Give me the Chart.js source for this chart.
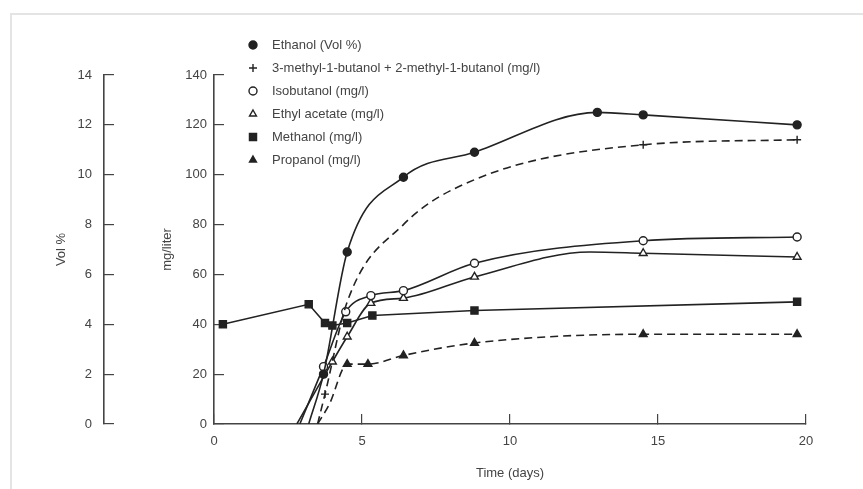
<!DOCTYPE html>
<html>
<head>
<meta charset="utf-8">
<script src="https://cdn.jsdelivr.net/npm/chart.js@4.4.1/dist/chart.umd.min.js"></script>
<style>
html, body { margin: 0; padding: 0; background: #fff; }
#wrap { position: relative; width: 863px; height: 489px; }
#frame { position: absolute; left: 10px; top: 13px; right: 0; bottom: 0; border-top: 2px solid #e4e4e4; border-left: 2px solid #e4e4e4; }
</style>
</head>
<body>
<div id="wrap">
    <div id="frame"></div>
    <canvas id="fermentChart"></canvas>
</div>
<script>
// values, time in days
const ethanolDays = [3.2, 3.7, 4.5, 6.4, 8.8, 12.95, 14.5, 19.7];
const ethanolVol = [0, 2.0, 6.9, 9.9, 10.9, 12.5, 12.4, 12.0];

const butanolDays = [3.5, 3.75, 4.5, 6.4, 8.8, 14.5, 19.7];
const butanolMg = [0, 12, 49, 80, 98, 112, 114];

const isobutanolDays = [2.9, 3.7, 4.45, 5.3, 6.4, 8.8, 14.5, 19.7];
const isobutanolMg = [0, 23, 45, 51.5, 53.5, 64.5, 73.5, 75];

const ethylAcetateDays = [2.8, 4.0, 4.5, 5.3, 6.4, 8.8, 12.7, 14.5, 19.7];
const ethylAcetateMg = [0, 25, 35, 48.5, 50.5, 59, 69, 68.5, 67];

const methanolDays = [0.3, 3.2, 3.75, 4.0, 4.5, 5.35, 8.8, 19.7];
const methanolMg = [40, 48, 40.5, 39.5, 40.5, 43.5, 45.5, 49];

const propanolDays = [3.5, 3.9, 4.5, 5.2, 6.4, 8.8, 14.5, 19.7];
const propanolMg = [0, 8, 24, 24, 27.5, 32.5, 36, 36];

const timeTicks = [0, 5, 10, 15, 20];

const Ink = '#222';
const Grey = '#444';

function toPoints(days, values) {
    return days.map((d, i) => ({ x: d, y: values[i] }));
}

function getDataSetEntry(label, data, opts) {
    return Object.assign({
        label,
        data,
        borderColor: Ink,
        borderWidth: 1.6,
        pointBorderColor: Ink,
        pointBorderWidth: 1.4,
        pointBackgroundColor: Ink,
        pointRadius: 4,
        cubicInterpolationMode: 'monotone',
        yAxisID: 'y',
    }, opts);
}

const datasets = [
    getDataSetEntry('Ethanol (Vol %)', toPoints(ethanolDays, ethanolVol), {
        pointStyle: 'circle', yAxisID: 'yVol',
        pointRadius: [0, 4, 4, 4, 4, 4, 4, 4],
    }),
    getDataSetEntry('3-methyl-1-butanol + 2-methyl-1-butanol (mg/l)', toPoints(butanolDays, butanolMg), {
        pointStyle: 'cross', borderDash: [8, 5],
        pointRadius: [0, 4, 0, 0, 0, 4, 4],
    }),
    getDataSetEntry('Isobutanol (mg/l)', toPoints(isobutanolDays, isobutanolMg), {
        pointStyle: 'circle', pointBackgroundColor: '#fff',
        pointRadius: [0, 4, 4, 4, 4, 4, 4, 4],
    }),
    getDataSetEntry('Ethyl acetate (mg/l)', toPoints(ethylAcetateDays, ethylAcetateMg), {
        pointStyle: 'triangle', pointBackgroundColor: '#fff',
        pointRadius: [0, 4.5, 4.5, 4.5, 4.5, 4.5, 0, 4.5, 4.5],
    }),
    getDataSetEntry('Methanol (mg/l)', toPoints(methanolDays, methanolMg), {
        pointStyle: 'rect', pointRadius: 5, cubicInterpolationMode: 'default', tension: 0,
    }),
    getDataSetEntry('Propanol (mg/l)', toPoints(propanolDays, propanolMg), {
        pointStyle: 'triangle', borderDash: [8, 5],
        pointRadius: [0, 0, 4.5, 4.5, 4.5, 4.5, 4.5, 4.5],
    }),
];

// legend drawn as a list in the upper left of the plot
const insideLegend = {
    id: 'insideLegend',
    afterDraw(chart) {
        const ctx = chart.ctx;
        const x = chart.chartArea.left + 39;
        let y = chart.chartArea.top - 30;
        ctx.save();
        ctx.font = '13px "Liberation Sans", Arial, sans-serif';
        ctx.textBaseline = 'middle';
        chart.data.datasets.forEach((ds) => {
            ctx.strokeStyle = Ink;
            ctx.fillStyle = ds.pointBackgroundColor;
            ctx.lineWidth = 1.4;
            Chart.helpers.drawPoint(ctx, {
                pointStyle: ds.pointStyle,
                radius: ds.pointStyle === 'rect' ? 5 : 4,
                rotation: 0,
                borderWidth: 1.4,
            }, x, y);
            ctx.fillStyle = Grey;
            ctx.fillText(ds.label, x + 19, y);
            y += 23;
        });
        ctx.restore();
    },
};

function axisGrid() {
    return { drawOnChartArea: false, tickLength: -10, color: Grey, lineWidth: 1.2 };
}

Chart.defaults.font.family = '"Liberation Sans", Arial, sans-serif';
Chart.defaults.font.size = 13;
Chart.defaults.color = Grey;

const ctx = document.getElementById('fermentChart').getContext('2d');
new Chart(ctx, {
    type: 'line',
    data: { datasets },
    plugins: [insideLegend],
    options: {
        responsive: true,
        maintainAspectRatio: false,
        animation: false,
        layout: { padding: { top: 75, right: 57, bottom: 0, left: 0 } },
        plugins: { legend: { display: false }, tooltip: { enabled: false } },
        scales: {
            x: {
                type: 'linear', min: 0, max: 20,
                afterBuildTicks: (scale) => { scale.ticks = timeTicks.map((v) => ({ value: v })); },
                afterFit: (scale) => { scale.height = 65; },
                ticks: { padding: 20 },
                grid: axisGrid(),
                border: { color: Grey, width: 1.6 },
                title: { display: true, text: 'Time (days)', padding: { top: 15, bottom: 8 } },
            },
            y: {
                position: 'left', weight: 0, min: 0, max: 140,
                afterFit: (scale) => { scale.width = 110; },
                ticks: { stepSize: 20, padding: 17 },
                grid: axisGrid(),
                border: { color: Grey, width: 1.6 },
                title: { display: true, text: 'mg/liter', padding: { top: 56, bottom: 10 } },
            },
            yVol: {
                position: 'left', weight: 1, min: 0, max: 14,
                afterFit: (scale) => { scale.width = 104; },
                ticks: { stepSize: 2, padding: 22 },
                grid: axisGrid(),
                border: { color: Grey, width: 1.6 },
                title: { display: true, text: 'Vol %', padding: { top: 54, bottom: 8 } },
            },
        },
    },
});
</script>
</body>
</html>
